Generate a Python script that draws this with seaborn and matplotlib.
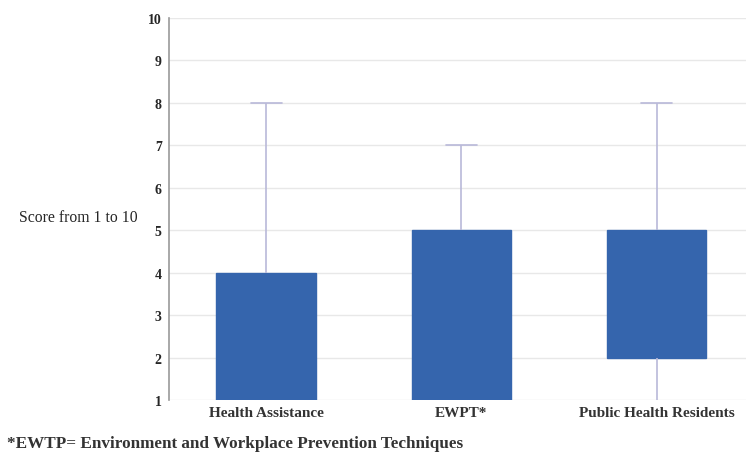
import numpy as np
import pandas as pd
import matplotlib.pyplot as plt
import seaborn as sns

# values (score 1-10)
groups = ["Health Assistance", "EWPT*", "Public Health Residents"]
box_low = [1, 1, 2]
box_high = [4, 5, 5]
whisker_low = [1, 1, 1]
whisker_high = [8, 7, 8]

# build minimal score lists that reproduce these quartiles and min/max
rows = []
for g, lo, q1, q3, hi in zip(groups, whisker_low, box_low, box_high, whisker_high):
    for v in [lo, q1, q1, q3, q3, hi]:
        rows.append({"group": g, "score": v})
df = pd.DataFrame(rows)

sns.set_style("white")
plt.rcParams["font.family"] = ["Liberation Serif", "DejaVu Serif"]

fig = plt.figure(figsize=(7.46, 4.56), dpi=100)
ax = fig.add_axes([0.226, 0.1206, 0.785, 0.8378])

box_color = "#3565ad"
whisk_color = "#b9b9d9"

sns.boxplot(data=df, x="group", y="score", ax=ax, order=groups,
            color=box_color, saturation=1, width=0.51, whis=(0, 100),
            linecolor=box_color, linewidth=1,
            medianprops={"visible": False},
            whiskerprops={"color": whisk_color, "linewidth": 1.2},
            capprops={"color": whisk_color, "linewidth": 1.2},
            capwidths=0.16, showfliers=False)

# hide the bottom caps sitting on the axis floor
for ln in ax.lines:
    y = np.asarray(ln.get_ydata(), dtype=float)
    x = np.asarray(ln.get_xdata(), dtype=float)
    if len(y) == 2 and y[0] == y[1] == 1 and x[0] != x[1]:
        ln.set_visible(False)

ax.set_ylim(1, 10)
ax.set_xlim(-0.5, 2.5)
ax.set_yticks(range(1, 11))
ax.yaxis.grid(True, color="#e8e8e8", linewidth=1)
ax.set_axisbelow(True)

for s in ["top", "right", "bottom"]:
    ax.spines[s].set_visible(False)
ax.spines["left"].set_color("#9a9a9a")
ax.spines["left"].set_linewidth(1.2)

ax.tick_params(axis="y", length=3, width=0.8, color="#9a9a9a", labelsize=10, pad=2)
ax.tick_params(axis="x", length=0, labelsize=11, pad=4)
for t in ax.get_yticklabels():
    t.set_fontweight("bold")
for t in ax.get_xticklabels():
    t.set_fontweight("bold")
    t.set_color("#333333")
ax.set_xlabel("")
ax.set_ylabel("")

fig.text(0.105, 0.522, "Score from 1 to 10", fontsize=11.3, ha="center", va="center")
fig.text(0.01, 0.027, "*EWTP= Environment and Workplace Prevention Techniques",
         fontsize=12.3, fontweight="bold", ha="left", va="center", color="#333333")

fig.savefig("out.png", dpi=100)
